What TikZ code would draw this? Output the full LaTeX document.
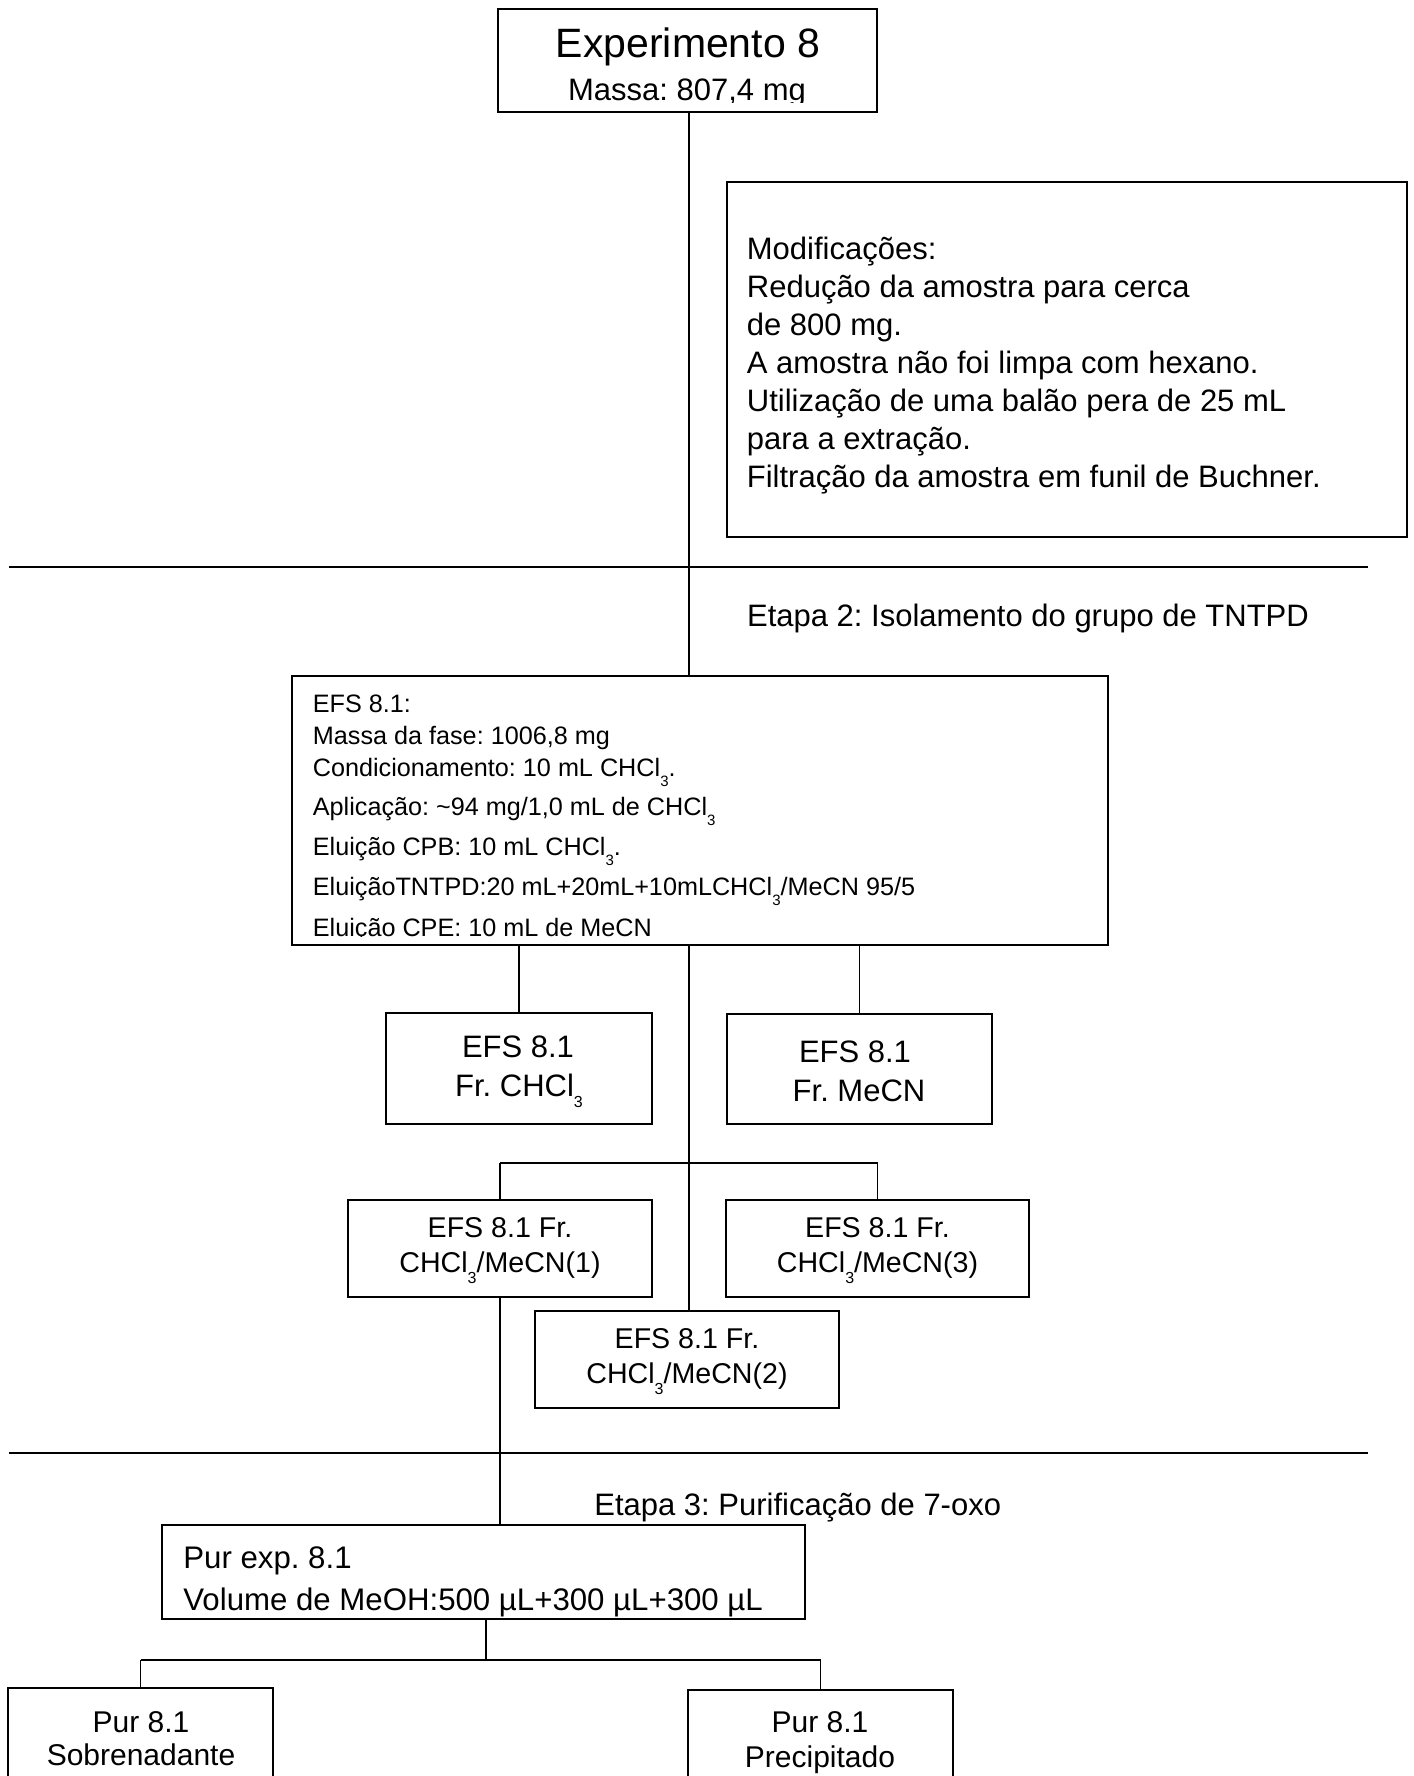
\documentclass[tikz,border=0pt]{standalone}
\usepackage{fontspec}
\setmainfont{Liberation Sans}
\frenchspacing
\newcommand{\tri}[1]{\raisebox{-.72\dimexpr #1\relax}{\fontsize{#1}{#1}\selectfont 3}}
\newcommand{\fsz}[1]{\fontsize{#1}{#1}\selectfont}
\begin{document}
\begin{tikzpicture}[x=0.5pt,y=-0.5pt,
  box/.style={draw, line width=1pt, inner sep=0pt, rectangle},
  conn/.style={line width=0.75pt},
  bar/.style={line width=1pt},
  sepline/.style={line width=1.3pt},
  ctxt/.style={inner sep=0pt, anchor=base},
  ltxt/.style={inner sep=0pt, anchor=base west}]
\useasboundingbox (0,0) rectangle (1413,1776);

% ---------- boxes ----------
\node[box, minimum width=189.5pt, minimum height=51.5pt] (top) at (687.5,60.5) {};
\node[box, minimum width=340pt, minimum height=177.5pt] (mod) at (1067,359.5) {};
\node[box, minimum width=408pt, minimum height=134.5pt] (efs) at (700,810.5) {};
\node[box, minimum width=133pt, minimum height=55.5pt] (chcl) at (519,1068.5) {};
\node[box, minimum width=132.5pt, minimum height=55pt] (mecn) at (859.5,1069) {};
\node[box, minimum width=152pt, minimum height=48.5pt] (b1) at (500,1248.5) {};
\node[box, minimum width=151.5pt, minimum height=48.5pt] (b3) at (877.5,1248.5) {};
\node[box, minimum width=152pt, minimum height=48.5pt] (b2) at (687,1359.5) {};
\node[box, minimum width=321.5pt, minimum height=47pt] (pur) at (483.5,1572) {};
\node[box, minimum width=132.5pt, minimum height=56pt] (sob) at (140.5,1744) {};
\node[box, minimum width=132.5pt, minimum height=55pt] (pre) at (820.5,1745) {};

% ---------- junction coordinates ----------
\coordinate (j1) at (689,1163);
\coordinate (j2) at (486,1660);
\coordinate (s1a) at (9,567);
\coordinate (s1b) at (1368,567);
\coordinate (s2a) at (9,1453);
\coordinate (s2b) at (1368,1453);

% ---------- separators ----------
\draw[sepline] (s1a) -- (s1b);
\draw[sepline] (s2a) -- (s2b);

% ---------- connectors ----------
\draw[conn] (top.south -| j1) -- (efs.north -| j1);
\draw[conn] (efs.south -| chcl.north) -- (chcl.north);
\draw[conn] (efs.south -| mecn.north) -- (mecn.north);
\draw[conn] (efs.south -| j1) -- (b2.north -| j1);
\draw[bar] (b1.north |- j1) -- (b3.north |- j1);
\draw[conn] (b1.north |- j1) -- (b1.north);
\draw[conn] (b3.north |- j1) -- (b3.north);
\draw[conn] (b1.south) -- (pur.north -| b1.south);
\draw[conn] (pur.south -| j2) -- (j2);
\draw[bar] (sob.north |- j2) -- (pre.north |- j2);
\draw[conn] (sob.north |- j2) -- (sob.north);
\draw[conn] (pre.north |- j2) -- (pre.north);

% ---------- texts ----------
\node[ctxt, font=\fsz{20.5pt}] (topA) at (688,57.3) {Experimento 8};
\begin{scope}
\clip (498,9) rectangle (877,103);
\node[ctxt, font=\fsz{15.5pt}] (topB) at (687,100.7) {Massa: 807,4 mg};
\end{scope}

\node[ltxt, font=\fsz{15.5pt}] (m1) at (746.5,259) {Modificações:};
\node[ltxt, font=\fsz{15.5pt}] (m2) at (746.5,297) {Redução da amostra para cerca};
\node[ltxt, font=\fsz{15.5pt}] (m3) at (746.5,335) {de 800 mg.};
\node[ltxt, font=\fsz{15.5pt}] (m4) at (746.5,373) {A amostra não foi limpa com hexano.};
\node[ltxt, font=\fsz{15.5pt}] (m5) at (746.5,411) {Utilização de uma balão pera de 25 mL};
\node[ltxt, font=\fsz{15.5pt}] (m6) at (746.5,449) {para a extração.};
\node[ltxt, font=\fsz{15.5pt}] (m7) at (746.5,487) {Filtração da amostra em funil de Buchner.};

\node[ltxt, font=\fsz{15.5pt}] (et2) at (746.7,626.7) {Etapa 2: Isolamento do grupo de TNTPD};

\node[ltxt, font=\fsz{12.6pt}] (e1) at (312.5,712) {EFS 8.1:};
\node[ltxt, font=\fsz{12.6pt}] (e2) at (312.5,744) {Massa da fase: 1006,8 mg};
\node[ltxt, font=\fsz{12.6pt}] (e3) at (312.5,776) {Condicionamento: 10 mL CHCl\tri{7.5pt}.};
\node[ltxt, font=\fsz{12.6pt}] (e4) at (312.5,815) {Aplicação: \textasciitilde 94 mg/1,0 mL de CHCl\tri{7.5pt}};
\node[ltxt, font=\fsz{12.6pt}] (e5) at (312.5,855) {Eluição CPB: 10 mL CHCl\tri{7.5pt}.};
\node[ltxt, font=\fsz{12.6pt}] (e6) at (312.5,895) {EluiçãoTNTPD:20 mL+20mL+10mLCHCl\tri{7.5pt}/MeCN 95/5};
\begin{scope}
\clip (292,676) rectangle (1108,936);
\node[ltxt, font=\fsz{12.6pt}] (e7) at (312.5,936) {Eluição CPE: 10 mL de MeCN};
\end{scope}

\node[ctxt, font=\fsz{15.5pt}] (c1) at (518,1057) {EFS 8.1};
\node[ctxt, font=\fsz{15.5pt}] (c2) at (519,1096) {Fr. CHCl\tri{8pt}};
\node[ctxt, font=\fsz{15.5pt}] (n1) at (855,1062) {EFS 8.1};
\node[ctxt, font=\fsz{15.5pt}] (n2) at (859,1101) {Fr. MeCN};

\node[ctxt, font=\fsz{14.3pt}] (b1a) at (500,1237) {EFS 8.1 Fr.};
\node[ctxt, font=\fsz{14.3pt}] (b1b) at (500,1272) {CHCl\tri{8pt}/MeCN(1)};
\node[ctxt, font=\fsz{14.3pt}] (b3a) at (877.5,1237) {EFS 8.1 Fr.};
\node[ctxt, font=\fsz{14.3pt}] (b3b) at (877.5,1272) {CHCl\tri{8pt}/MeCN(3)};
\node[ctxt, font=\fsz{14.3pt}] (b2a) at (687,1348) {EFS 8.1 Fr.};
\node[ctxt, font=\fsz{14.3pt}] (b2b) at (687,1383) {CHCl\tri{8pt}/MeCN(2)};

\node[ltxt, font=\fsz{15.5pt}] (et3) at (594,1515) {Etapa 3: Purificação de 7-oxo};

\node[ltxt, font=\fsz{15.6pt}] (p1) at (183,1568) {Pur exp. 8.1};
\node[ltxt, font=\fsz{15.6pt}] (p2) at (183,1610) {Volume de MeOH:500 µL+300 µL+300 µL};

\node[ctxt, font=\fsz{15pt}] (s1) at (141,1732) {Pur 8.1};
\node[ctxt, font=\fsz{15pt}] (s2) at (141,1765) {Sobrenadante};
\node[ctxt, font=\fsz{15pt}] (r1) at (820,1732) {Pur 8.1};
\node[ctxt, font=\fsz{15pt}] (r2) at (820,1767) {Precipitado};
\end{tikzpicture}
\end{document}
